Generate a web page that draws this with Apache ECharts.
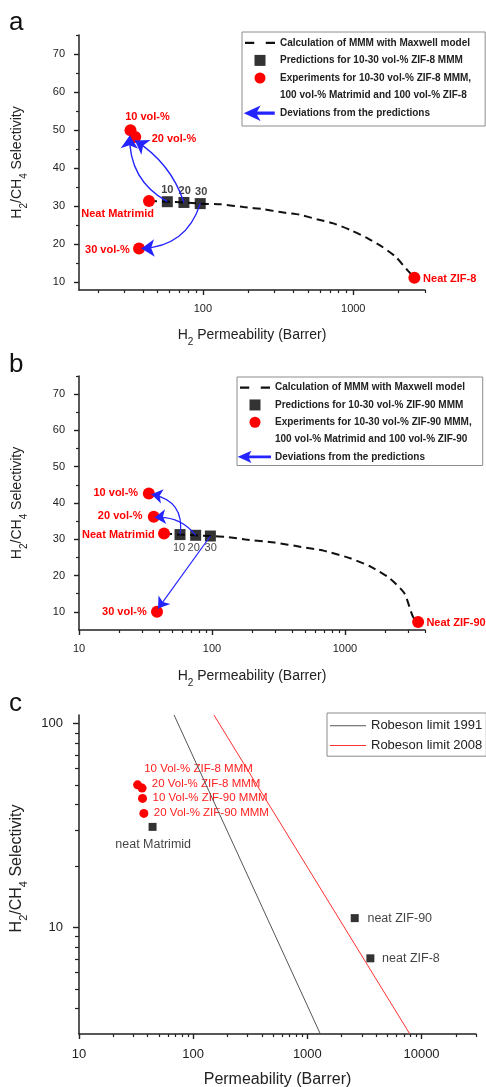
<!DOCTYPE html>
<html>
<head>
<meta charset="utf-8">
<script src="https://cdn.jsdelivr.net/npm/echarts@6/dist/echarts.min.js"></script>
<style>
  html, body { margin: 0; padding: 0; background: #fff; }
  #chart { width: 486px; height: 1087px; }
</style>
</head>
<body>
<div id="chart"></div>
<script>
// ---------- panel a : ZIF-8 / Matrimid ----------
const predLabelsA = ['10', '20', '30'];
const predPermA = [58, 74.8, 96];
const predSelA = [31.2, 31.0, 30.7];

const expLabelsA = ['10 vol-%', '20 vol-%', '30 vol-%', 'Neat Matrimid', 'Neat ZIF-8'];
const expPermA = [33.0, 35.5, 37.6, 43.8, 2550];
const expSelA = [50.0, 48.2, 18.9, 31.4, 11.2];

const maxwellPermA = [43.8, 58, 74.8, 96, 132, 186, 257, 335, 439, 572, 737, 967, 1256, 1564, 1918, 2290, 2550];
const maxwellSelA = [31.4, 31.2, 31.0, 30.7, 30.5, 29.8, 29.2, 28.4, 27.8, 26.6, 25.5, 23.7, 21.5, 19.3, 16.7, 13.2, 11.2];

const arrowTipPermA = [32.6, 35.3, 39.0];
const arrowTipSelA = [48.6, 47.3, 18.9];

const legendTextA = [
  'Calculation of MMM with Maxwell model',
  'Predictions for 10-30 vol-% ZIF-8 MMM',
  'Experiments for 10-30 vol-% ZIF-8 MMM,',
  '100 vol-% Matrimid and 100 vol-% ZIF-8',
  'Deviations from the predictions'
];

// ---------- panel b : ZIF-90 / Matrimid ----------
const predLabelsB = ['10', '20', '30'];
const predPermB = [57.5, 75.4, 97.3];
const predSelB = [31.3, 31.1, 30.9];

const expLabelsB = ['10 vol-%', '20 vol-%', '30 vol-%', 'Neat Matrimid', 'Neat ZIF-90'];
const expPermB = [33.5, 36.5, 38.6, 43.6, 3550];
const expSelB = [42.6, 36.2, 10.0, 31.6, 7.2];

const maxwellPermB = [43.6, 57.5, 75.4, 97.3, 124.5, 178.5, 296, 469, 700, 1110, 1570, 2180, 2800, 3250, 3550];
const maxwellSelB = [31.6, 31.3, 31.1, 30.9, 30.7, 29.95, 29.1, 27.9, 26.8, 24.7, 22.4, 19.2, 15.1, 8.6, 7.2];

const arrowTipPermB = [35.1, 37.1, 39.3];
const arrowTipSelB = [42.4, 36.0, 10.9];

const legendTextB = [
  'Calculation of MMM with Maxwell model',
  'Predictions for 10-30 vol-% ZIF-90 MMM',
  'Experiments for 10-30 vol-% ZIF-90 MMM,',
  '100 vol-% Matrimid and 100 vol-% ZIF-90',
  'Deviations from the predictions'
];

// ---------- panel c : Robeson plot ----------
const mmmLabelsC = ['10 Vol-% ZIF-8 MMM', '20 Vol-% ZIF-8 MMM', '10 Vol-% ZIF-90 MMM', '20 Vol-% ZIF-90 MMM'];
const mmmPermC = [32.6, 35.7, 36.0, 37.0];
const mmmSelC = [50.0, 48.2, 42.9, 36.2];

const neatLabelsC = ['neat Matrimid', 'neat ZIF-90', 'neat ZIF-8'];
const neatPermC = [44.1, 2600, 3565];
const neatSelC = [31.1, 11.1, 7.05];

const robeson1991Perm = [68, 1300];
const robeson1991Sel = [110, 3];
const robeson2008Perm = [152, 7900];
const robeson2008Sel = [110, 3];
const legendTextC = ['Robeson limit 1991', 'Robeson limit 2008'];

// ---------- tick values ----------
const xMajorA = [100, 1000];
const xMinorA = [20, 30, 40, 50, 60, 70, 80, 90, 200, 300, 400, 500, 600, 700, 800, 900, 2000, 3000];
const xMajorB = [10, 100, 1000];
const xMinorB = [20, 30, 40, 50, 60, 70, 80, 90, 200, 300, 400, 500, 600, 700, 800, 900, 2000, 3000, 4000];
const yMajorAB = [10, 20, 30, 40, 50, 60, 70];
const yMinorAB = [15, 25, 35, 45, 55, 65, 75];
const xMajorC = [10, 100, 1000, 10000];
const xMinorC = [20, 30, 40, 50, 60, 70, 80, 90, 200, 300, 400, 500, 600, 700, 800, 900,
                 2000, 3000, 4000, 5000, 6000, 7000, 8000, 9000, 20000, 30000];
const yMajorC = [10, 100];
const yMinorC = [4, 5, 6, 7, 8, 9, 20, 30, 40, 50, 60, 70, 80, 90];

// ---------- label placement (offsets from the marker centre, px) ----------
const expPlaceA = [
  { off: [17, -13.3], align: 'center' },
  { off: [16.4, 2.3], align: 'left' },
  { off: [-9.3, 1], align: 'right' },
  { off: [5, 13], align: 'right' },
  { off: [8.7, 1.3], align: 'left' }
];
const predPlaceA = [[0, -11.7], [0.7, -11.6], [1, -12]];
const expPlaceB = [
  { off: [-10.7, -0.6], align: 'right' },
  { off: [-11.3, -0.7], align: 'right' },
  { off: [-10.3, 0], align: 'right' },
  { off: [-9.3, 1.7], align: 'right' },
  { off: [8.3, 1], align: 'left' }
];
const predPlaceB = [[-1, 13], [-2, 12.3], [0.3, 12.3]];
const mmmPlaceC = [[6.6, -15.7], [9.7, -4], [10, -0.3], [10, -0.3]];
const neatPlaceC = [
  { off: [0.6, 17.3], align: 'center' },
  { off: [12.7, 0.7], align: 'left' },
  { off: [11.7, 0], align: 'left' }
];
const curveA = [0.3, -0.18, 0.35];
const curveB = [-0.48, -0.27, 0];

// ---------- styling helpers ----------
const FONT = '"Liberation Sans", Arial, Helvetica, sans-serif';
const INK = '#222';
const RED = '#ff0000';
const BLUE = '#2424ff';

function pairs(xs, ys) { return xs.map((x, i) => [x, ys[i]]); }
function plainNumber(v) { return String(Math.round(v)); }

function labelAt(size, off, align, style) {
  return Object.assign({
    show: true,
    position: [size / 2 + off[0], size / 2 + off[1]],
    align: align || 'center',
    verticalAlign: 'middle',
    fontFamily: FONT,
    textBorderWidth: 0,
    textBorderColor: 'transparent',
    formatter: '{b}'
  }, style);
}

function nameStyle(size, sub, extra) {
  const lh = size + 9;
  return Object.assign({
    fontFamily: FONT, color: INK, fontSize: size,
    rich: {
      t: { fontSize: size, fontFamily: FONT, color: INK, verticalAlign: 'middle', lineHeight: lh },
      s: { fontSize: sub, fontFamily: FONT, color: INK, verticalAlign: 'bottom', lineHeight: lh }
    }
  }, extra || {});
}

function mainAxis(o) {
  return {
    type: o.type, gridIndex: o.grid, min: o.min, max: o.max, position: o.position, logBase: 10,
    axisLine: { show: true, onZero: false, lineStyle: { color: INK, width: 1.5 } },
    axisTick: { show: true, inside: false, length: o.tickLen, customValues: o.ticks,
                lineStyle: { color: INK, width: 1.4 } },
    axisLabel: { show: true, customValues: o.ticks, fontSize: o.labelSize, color: INK,
                 fontFamily: FONT, margin: o.margin, formatter: plainNumber },
    splitLine: { show: false },
    minorTick: { show: false },
    name: o.name, nameLocation: 'middle', nameGap: o.nameGap, nameRotate: o.nameRotate,
    nameTextStyle: o.nameStyle,
    silent: true
  };
}

function minorAxis(o) {
  return {
    type: o.type, gridIndex: o.grid, min: o.min, max: o.max, position: o.position, logBase: 10,
    axisLine: { show: false, onZero: false },
    axisTick: { show: true, inside: false, length: o.tickLen, customValues: o.ticks,
                lineStyle: { color: INK, width: 1.2 } },
    axisLabel: { show: false },
    splitLine: { show: false },
    silent: true
  };
}

const subName = '{t|H}{s|2}{t| Permeability (Barrer)}';
const selName = '{t|H}{s|2}{t|/CH}{s|4}{t| Selectivity}';

// ---------- series builders ----------
function expData(labels, xs, ys, place, size) {
  return xs.map((x, i) => ({
    name: labels[i], value: [x, ys[i]],
    label: labelAt(size, place[i].off, place[i].align,
      { color: RED, fontSize: 11, fontWeight: 'bold' })
  }));
}
function predData(labels, xs, ys, place, size, weight) {
  return xs.map((x, i) => ({
    name: labels[i], value: [x, ys[i]],
    label: labelAt(size, place[i], 'center', { color: '#111', fontSize: 11, fontWeight: weight })
  }));
}
function arrowData(px, py, tx, ty, curve) {
  return px.map((x, i) => ({
    coords: [[x, py[i]], [tx[i], ty[i]]],
    lineStyle: { curveness: curve[i] }
  }));
}

const dashIcon = 'path://M0,0H8V2H0Z M18,0H26V2H18Z';
const squareIcon = 'path://M0,0H10V10H0Z';
const arrowIconA = 'path://M0,6L13,0L9.5,6L13,12Z M9,5.3H30V6.7H9Z';
const arrowIconB = 'path://M0,4L9,0L7,4L9,8Z M6,3.6H29V4.4H6Z';

function legendFor(texts, arrowIcon, box) {
  return {
    left: box.left, top: box.top, orient: 'vertical',
    padding: box.padding, itemGap: 0, itemWidth: 30, itemHeight: 11,
    borderColor: '#8c8c8c', borderWidth: 1, backgroundColor: '#fff',
    selectedMode: false, symbolKeepAspect: true,
    textStyle: { fontFamily: FONT, fontSize: 10, fontWeight: 'bold', color: INK, lineHeight: box.lh },
    data: [
      { name: texts[0], icon: dashIcon, itemStyle: { color: '#111' } },
      { name: texts[1], icon: squareIcon, itemStyle: { color: '#000' } },
      { name: texts[2], icon: 'circle', itemStyle: { color: RED } },
      { name: texts[3], icon: 'none' },
      { name: texts[4], icon: arrowIcon, itemStyle: { color: BLUE } }
    ]
  };
}

const option = {
  animation: false,
  backgroundColor: '#fff',
  textStyle: { fontFamily: FONT },
  title: [
    { text: 'a', left: 4, top: 5, textStyle: { fontSize: 26, fontWeight: 'normal', color: '#111', fontFamily: FONT } },
    { text: 'b', left: 4, top: 347, textStyle: { fontSize: 26, fontWeight: 'normal', color: '#111', fontFamily: FONT } },
    { text: 'c', left: 4, top: 686, textStyle: { fontSize: 26, fontWeight: 'normal', color: '#111', fontFamily: FONT } }
  ],
  grid: [
    { left: 79, top: 35, width: 346, height: 255, containLabel: false, outerBoundsMode: 'none' },
    { left: 79, top: 376, width: 346, height: 254, containLabel: false, outerBoundsMode: 'none' },
    { left: 79, top: 715, width: 397, height: 319, containLabel: false, outerBoundsMode: 'none' }
  ],
  xAxis: [
    mainAxis({ type: 'log', grid: 0, min: 15, max: 3000, position: 'bottom', tickLen: 5, ticks: xMajorA,
      labelSize: 11, margin: 13, name: subName, nameGap: 34, nameStyle: nameStyle(14, 10) }),
    minorAxis({ type: 'log', grid: 0, min: 15, max: 3000, position: 'bottom', tickLen: 3, ticks: xMinorA }),
    mainAxis({ type: 'log', grid: 1, min: 10, max: 4000, position: 'bottom', tickLen: 5, ticks: xMajorB,
      labelSize: 11, margin: 13, name: subName, nameGap: 35, nameStyle: nameStyle(14, 10) }),
    minorAxis({ type: 'log', grid: 1, min: 10, max: 4000, position: 'bottom', tickLen: 3, ticks: xMinorB }),
    mainAxis({ type: 'log', grid: 2, min: 10, max: 30000, position: 'bottom', tickLen: 5, ticks: xMajorC,
      labelSize: 13, margin: 14, name: 'Permeability (Barrer)', nameGap: 38,
      nameStyle: { fontFamily: FONT, fontSize: 16, color: INK } }),
    minorAxis({ type: 'log', grid: 2, min: 10, max: 30000, position: 'bottom', tickLen: 3, ticks: xMinorC })
  ],
  yAxis: [
    mainAxis({ type: 'value', grid: 0, min: 8, max: 75, position: 'left', tickLen: 5, ticks: yMajorAB,
      labelSize: 11, margin: 14, name: selName, nameGap: 50, nameRotate: 90, nameStyle: nameStyle(14, 10) }),
    minorAxis({ type: 'value', grid: 0, min: 8, max: 75, position: 'left', tickLen: 3, ticks: yMinorAB }),
    mainAxis({ type: 'value', grid: 1, min: 5, max: 75, position: 'left', tickLen: 5, ticks: yMajorAB,
      labelSize: 11, margin: 14, name: selName, nameGap: 50, nameRotate: 90, nameStyle: nameStyle(14, 10) }),
    minorAxis({ type: 'value', grid: 1, min: 5, max: 75, position: 'left', tickLen: 3, ticks: yMinorAB }),
    mainAxis({ type: 'log', grid: 2, min: 3, max: 110, position: 'left', tickLen: 6, ticks: yMajorC,
      labelSize: 13, margin: 16, name: selName, nameGap: 50, nameRotate: 90,
      nameStyle: nameStyle(16, 11, { padding: [0, 0, 0, 12] }) }),
    minorAxis({ type: 'log', grid: 2, min: 3, max: 110, position: 'left', tickLen: 4, ticks: yMinorC })
  ],
  legend: [
    legendFor(legendTextA, arrowIconA, { left: 242, top: 32, padding: [2, 14, 4, 3], lh: 17.6 }),
    legendFor(legendTextB, arrowIconB, { left: 237, top: 377, padding: [2, 11, 0, 2], lh: 17.3 }),
    {
      left: 327, top: 713, orient: 'vertical', padding: [3, 4, 1, 3], itemGap: 0,
      itemWidth: 36, itemHeight: 10, borderColor: '#8c8c8c', borderWidth: 1, backgroundColor: '#fff',
      selectedMode: false,
      textStyle: { fontFamily: FONT, fontSize: 13, color: INK, lineHeight: 19.6 },
      data: [
        { name: legendTextC[0], icon: 'path://M0,0H36V1H0Z', itemStyle: { color: '#555' } },
        { name: legendTextC[1], icon: 'path://M0,0H36V1H0Z', itemStyle: { color: '#ff3030' } }
      ]
    }
  ],
  series: [
    // ----- panel a -----
    { name: legendTextA[0], type: 'line', xAxisIndex: 0, yAxisIndex: 0, silent: true,
      data: pairs(maxwellPermA, maxwellSelA), symbol: 'none', smooth: 0.2, z: 1,
      lineStyle: { color: '#111', width: 2, type: [8, 5] } },
    { name: legendTextA[1], type: 'scatter', xAxisIndex: 0, yAxisIndex: 0, silent: true,
      symbol: 'rect', symbolSize: 11, itemStyle: { color: '#000' }, z: 3,
      data: predData(predLabelsA, predPermA, predSelA, predPlaceA, 11, 'bold') },
    { name: legendTextA[2], type: 'scatter', xAxisIndex: 0, yAxisIndex: 0, silent: true,
      symbol: 'circle', symbolSize: 12, itemStyle: { color: RED, opacity: 1 }, z: 3,
      data: expData(expLabelsA, expPermA, expSelA, expPlaceA, 12) },
    { name: legendTextA[3], type: 'scatter', xAxisIndex: 0, yAxisIndex: 0, data: [] },
    { name: legendTextA[4], type: 'lines', coordinateSystem: 'cartesian2d', xAxisIndex: 0, yAxisIndex: 0,
      silent: true, z: 5, symbol: ['none', 'arrow'], symbolSize: [0, 13],
      lineStyle: { color: BLUE, width: 1.4, opacity: 1 },
      data: arrowData(predPermA, predSelA, arrowTipPermA, arrowTipSelA, curveA) },

    // ----- panel b -----
    { name: legendTextB[0], type: 'line', xAxisIndex: 2, yAxisIndex: 2, silent: true,
      data: pairs(maxwellPermB, maxwellSelB), symbol: 'none', smooth: 0.2, z: 1,
      lineStyle: { color: '#111', width: 2, type: [8, 5] } },
    { name: legendTextB[1], type: 'scatter', xAxisIndex: 2, yAxisIndex: 2, silent: true,
      symbol: 'rect', symbolSize: 11, itemStyle: { color: '#000' }, z: 3,
      data: predData(predLabelsB, predPermB, predSelB, predPlaceB, 11, 'normal') },
    { name: legendTextB[2], type: 'scatter', xAxisIndex: 2, yAxisIndex: 2, silent: true,
      symbol: 'circle', symbolSize: 12, itemStyle: { color: RED, opacity: 1 }, z: 3,
      data: expData(expLabelsB, expPermB, expSelB, expPlaceB, 12) },
    { name: legendTextB[3], type: 'scatter', xAxisIndex: 2, yAxisIndex: 2, data: [] },
    { name: legendTextB[4], type: 'lines', coordinateSystem: 'cartesian2d', xAxisIndex: 2, yAxisIndex: 2,
      silent: true, z: 5, symbol: ['none', 'arrow'], symbolSize: [0, 11],
      lineStyle: { color: BLUE, width: 1.2, opacity: 1 },
      data: arrowData(predPermB, predSelB, arrowTipPermB, arrowTipSelB, curveB) },

    // ----- panel c -----
    { name: legendTextC[0], type: 'line', xAxisIndex: 4, yAxisIndex: 4, silent: true,
      data: pairs(robeson1991Perm, robeson1991Sel), symbol: 'none', z: 4,
      lineStyle: { color: '#555', width: 1 } },
    { name: legendTextC[1], type: 'line', xAxisIndex: 4, yAxisIndex: 4, silent: true,
      data: pairs(robeson2008Perm, robeson2008Sel), symbol: 'none', z: 4,
      lineStyle: { color: '#ff3030', width: 1 } },
    { name: 'MMM', type: 'scatter', xAxisIndex: 4, yAxisIndex: 4, silent: true,
      symbol: 'circle', symbolSize: 9, itemStyle: { color: RED, opacity: 1 }, z: 3,
      data: mmmPermC.map((x, i) => ({
        name: mmmLabelsC[i], value: [x, mmmSelC[i]],
        label: labelAt(9, mmmPlaceC[i], 'left', { color: '#ff2020', fontSize: 11.5 })
      })) },
    { name: 'Neat', type: 'scatter', xAxisIndex: 4, yAxisIndex: 4, silent: true,
      symbol: 'rect', symbolSize: 8, itemStyle: { color: '#000' }, z: 3,
      data: neatPermC.map((x, i) => ({
        name: neatLabelsC[i], value: [x, neatSelC[i]],
        label: labelAt(8, neatPlaceC[i].off, neatPlaceC[i].align, { color: '#111', fontSize: 12.5 })
      })) }
  ]
};

const chart = echarts.init(document.getElementById('chart'), null, { renderer: 'canvas' });
chart.setOption(option);
</script>
</body>
</html>
